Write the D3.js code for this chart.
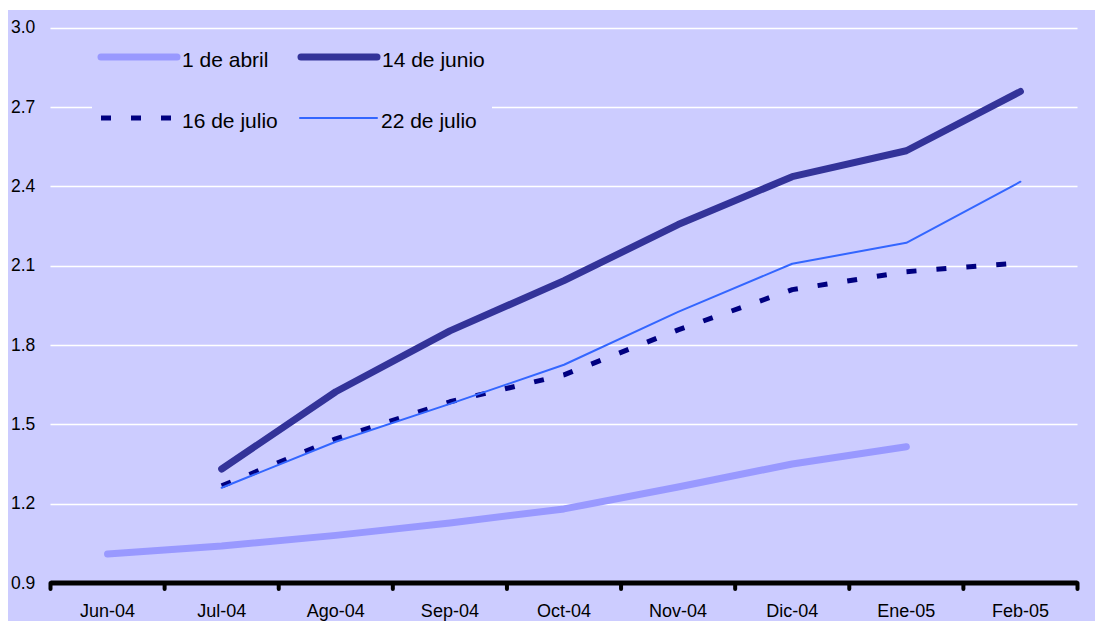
<!DOCTYPE html>
<html>
<head>
<meta charset="utf-8">
<script src="https://cdn.jsdelivr.net/npm/d3@7"></script>
<style>
  html, body { margin: 0; padding: 0; background: #ffffff; }
  svg { display: block; font-family: "Liberation Sans", Arial, sans-serif; }
</style>
</head>
<body>
<svg id="chart" width="1095" height="621"></svg>
<script>
// Months on the horizontal axis
const months = ["Jun-04", "Jul-04", "Ago-04", "Sep-04", "Oct-04", "Nov-04", "Dic-04", "Ene-05", "Feb-05"];

// Value ticks on the vertical axis
const yTicks = [0.9, 1.2, 1.5, 1.8, 2.1, 2.4, 2.7, 3.0];

// Each series: one value per month (null where no value)
const abril1 = [1.01, 1.04, 1.08, 1.127, 1.18, 1.263, 1.35, 1.415, null];
const junio14 = [null, 1.331, 1.623, 1.853, 2.043, 2.255, 2.436, 2.534, 2.758];
const julio16 = [null, 1.267, 1.445, 1.585, 1.687, 1.857, 2.009, 2.077, 2.11];
const julio22 = [null, 1.26, 1.434, 1.577, 1.725, 1.925, 2.107, 2.186, 2.417];

const seriesNames = ["1 de abril", "14 de junio", "16 de julio", "22 de julio"];

const series = [
  { name: seriesNames[0], values: abril1, color: "#9999ff", width: 7, dash: null, cap: "round" },
  { name: seriesNames[1], values: junio14, color: "#333399", width: 7, dash: null, cap: "round" },
  { name: seriesNames[2], values: julio16, color: "#000080", width: 5, dash: "10,20", cap: "butt" },
  { name: seriesNames[3], values: julio22, color: "#3366ff", width: 2, dash: null, cap: "round" }
];

const svg = d3.select("#chart");
const bg = "#ccccff";

// Plot background
svg.append("rect").attr("x", 8).attr("y", 10).attr("width", 1087).attr("height", 611).attr("fill", bg);

const plotLeft = 50.5, plotRight = 1077.5, plotTop = 27.5, plotBottom = 583;

const x = d3.scaleBand().domain(months).range([plotLeft, plotRight]);
const y = d3.scaleLinear().domain([0.9, 3.0]).range([plotBottom, plotTop]);

// Horizontal gridlines
svg.append("g").selectAll("line").data(yTicks.filter(t => t > 0.9)).join("line")
  .attr("x1", plotLeft).attr("x2", plotRight)
  .attr("y1", d => Math.round(y(d)) + 0.5).attr("y2", d => Math.round(y(d)) + 0.5)
  .attr("stroke", "#ffffff").attr("stroke-width", 1.5);

// Y tick labels
svg.append("g").selectAll("text").data(yTicks).join("text")
  .attr("x", 11).attr("y", d => y(d))
  .attr("dy", "0.33em")
  .attr("font-size", 17.5).attr("fill", "#000")
  .text(d => d.toFixed(1));

// Legend box hides the gridline behind it
svg.append("rect").attr("x", 92).attr("y", 36).attr("width", 400).attr("height", 104).attr("fill", bg);

// Series lines
const line = d3.line()
  .defined(d => d != null)
  .x((d, i) => x(months[i]) + x.bandwidth() / 2)
  .y(d => y(d));

series.forEach(s => {
  svg.append("path")
    .datum(s.values)
    .attr("fill", "none")
    .attr("stroke", s.color)
    .attr("stroke-width", s.width)
    .attr("stroke-linecap", s.cap)
    .attr("stroke-linejoin", "round")
    .attr("stroke-dasharray", s.dash)
    .attr("d", line);
});

// Bottom axis
const xAxis = d3.axisBottom(x).tickSize(0).tickPadding(0);
const axisG = svg.append("g").attr("transform", `translate(0,${plotBottom})`);
axisG.append("line").attr("x1", plotLeft).attr("x2", plotRight).attr("y1", 0).attr("y2", 0)
  .attr("stroke", "#000").attr("stroke-width", 5);
const edges = months.map(m => x(m)).concat([plotRight]);
axisG.selectAll("line.tk").data(edges).join("line").attr("class", "tk")
  .attr("x1", d => d).attr("x2", d => d).attr("y1", 0).attr("y2", 6)
  .attr("stroke", "#000").attr("stroke-width", 4).attr("stroke-linecap", "round");
const labelG = svg.append("g").attr("transform", `translate(0,${plotBottom})`).call(xAxis);
labelG.select(".domain").remove();
labelG.selectAll("text")
  .attr("y", 34).attr("dy", null)
  .attr("font-size", 18).attr("font-family", "\"Liberation Sans\", Arial, sans-serif").attr("fill", "#000");

// Legend
const legendPos = [
  { lx1: 101, lx2: 177, ly: 57, tx: 182, ty: 67 },
  { lx1: 301, lx2: 377, ly: 57, tx: 382, ty: 67 },
  { lx1: 101, lx2: 173, ly: 118, tx: 182, ty: 128 },
  { lx1: 300, lx2: 377, ly: 118, tx: 381, ty: 128 }
];
series.forEach((s, i) => {
  const p = legendPos[i];
  svg.append("line")
    .attr("x1", p.lx1).attr("x2", p.lx2).attr("y1", p.ly).attr("y2", p.ly)
    .attr("stroke", s.color).attr("stroke-width", s.width)
    .attr("stroke-linecap", s.cap).attr("stroke-dasharray", s.dash);
  svg.append("text").attr("x", p.tx).attr("y", p.ty)
    .attr("font-size", 21).attr("fill", "#000").text(s.name);
});
</script>
</body>
</html>
